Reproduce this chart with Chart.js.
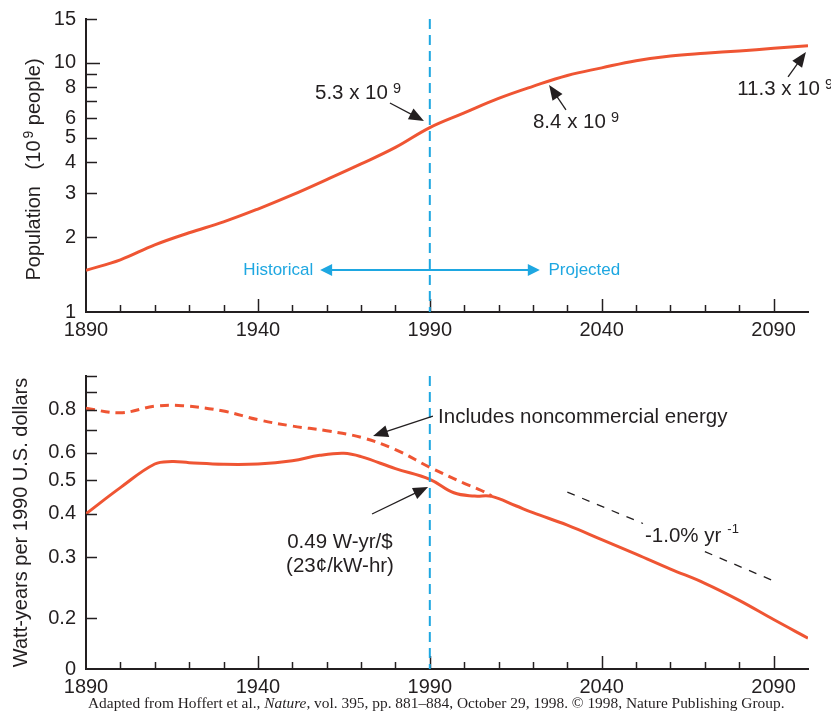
<!DOCTYPE html>
<html>
<head>
<meta charset="utf-8">
<script src="https://cdn.jsdelivr.net/npm/chart.js@4.4.1/dist/chart.umd.min.js"></script>
<style>
  html, body { margin: 0; padding: 0; background: #fff; }
  body { width: 831px; height: 714px; position: relative; overflow: hidden; }
  canvas { position: absolute; left: 0; }
  #pop { top: 0; }
  #energy { top: 345px; }
  #credit { position: absolute; left: 88px; top: 695px; font: 15.4px 'Liberation Serif', 'Times New Roman', serif;
            color: #231f20; white-space: nowrap; line-height: 1; }
</style>
</head>
<body>
<canvas id="pop" width="831" height="345"></canvas>
<canvas id="energy" width="831" height="355"></canvas>
<div id="credit">Adapted from Hoffert et al., <i>Nature</i>, vol. 395, pp. 881–884, October 29, 1998. © 1998, Nature Publishing Group.</div>
<script>
// ---- data ----
const years = [1890, 1900, 1910, 1920, 1930, 1940, 1950, 1960, 1970, 1980, 1990,
               2000, 2010, 2020, 2030, 2040, 2050, 2060, 2070, 2080, 2090, 2100];
const population = [1.47, 1.62, 1.86, 2.08, 2.30, 2.59, 2.95, 3.40, 3.93, 4.58, 5.5,
                    6.3, 7.2, 8.05, 8.9, 9.55, 10.2, 10.66, 10.93, 11.16, 11.44, 11.72];

const intensityYears = [1890, 1900, 1910, 1915, 1920, 1930, 1940, 1950, 1958, 1965, 1970, 1980, 1990,
                        1997, 2003, 2008, 2015, 2020, 2030, 2040, 2050, 2060, 2070, 2080, 2090, 2100];
const intensity = [0.40, 0.476, 0.557, 0.566, 0.562, 0.556, 0.557, 0.569, 0.59, 0.598, 0.585, 0.54, 0.503,
                   0.46, 0.45, 0.449, 0.422, 0.403, 0.371, 0.337, 0.306, 0.277, 0.252, 0.225, 0.198, 0.175];

const nonCommYears = [1890, 1900, 1910, 1918, 1930, 1940, 1950, 1960, 1970, 1980, 1990, 2000, 2005, 2008];
const nonComm = [0.807, 0.783, 0.818, 0.821, 0.792, 0.748, 0.717, 0.695, 0.665, 0.613, 0.545, 0.49, 0.467, 0.45];

const trendYears = [2030, 2052, 2061, 2070, 2090];
const trendValues = [0.462, 0.375, null, 0.311, 0.256];

const xTicks = [1890, 1900, 1910, 1920, 1930, 1940, 1950, 1960, 1970, 1980, 1990,
                2000, 2010, 2020, 2030, 2040, 2050, 2060, 2070, 2080, 2090];
const xTickLabels = ['1890', '', '', '', '', '1940', '', '', '', '', '1990',
                     '', '', '', '', '2040', '', '', '', '', '2090'];
const popTicks = [1, 2, 3, 4, 5, 6, 7, 8, 9, 10, 15];
const popTickLabels = ['1', '2', '3', '4', '5', '6', '', '8', '', '10', '15'];
const energyTicks = [0.1425, 0.2, 0.3, 0.4, 0.5, 0.6, 0.7, 0.8, 0.9, 1.0];
const energyTickLabels = ['0', '0.2', '0.3', '0.4', '0.5', '0.6', '', '0.8', '', ''];

// ---- look ----
const red = '#ef5533';
const blue = '#1ea7e1';
const ink = '#231f20';
const family = "'Liberation Sans', Arial, sans-serif";
Chart.defaults.font.family = family;
Chart.defaults.font.size = 20;
Chart.defaults.color = ink;

const pts = (xs, ys) => xs.map((x, i) => ({ x, y: ys[i] }));

function tip(ctx, x, y, ang, len, w) {
  const c = Math.cos(ang), s = Math.sin(ang);
  ctx.beginPath();
  ctx.moveTo(x, y);
  ctx.lineTo(x - len * c + w / 2 * s, y - len * s - w / 2 * c);
  ctx.lineTo(x - len * c - w / 2 * s, y - len * s + w / 2 * c);
  ctx.closePath();
  ctx.fill();
}

function arrow(ctx, a, x1, y1, x2, y2) {
  const ang = Math.atan2(y2 - y1, x2 - x1);
  const len = a.len || 15, w = a.w || 12;
  const c = Math.cos(ang), s = Math.sin(ang);
  ctx.strokeStyle = ctx.fillStyle = a.color || ink;
  ctx.lineWidth = a.lw || 1.3;
  ctx.beginPath();
  ctx.moveTo(a.both ? x1 + c * len * 0.8 : x1, a.both ? y1 + s * len * 0.8 : y1);
  ctx.lineTo(x2 - c * len * 0.8, y2 - s * len * 0.8);
  ctx.stroke();
  tip(ctx, x2, y2, ang, len, w);
  if (a.both) tip(ctx, x1, y1, ang + Math.PI, len, w);
}

function label(ctx, t, x, y) {
  const size = t.size || 20.5;
  ctx.fillStyle = t.color || ink;
  ctx.font = `${size}px ${family}`;
  ctx.textBaseline = t.baseline || 'alphabetic';
  ctx.textAlign = 'left';
  const w = ctx.measureText(t.text).width;
  const x0 = t.align === 'right' ? x - w : x;
  ctx.fillText(t.text, x0, y);
  if (t.sup) {
    ctx.font = `${t.supSize || 14.5}px ${family}`;
    ctx.fillText(t.sup, x0 + w + (t.gap || 5), y - (t.raise || 6));
  }
}

// axis title drawn rotated, runs allow a superscript
function yTitle(ctx, area, runs, bx, shift) {
  ctx.save();
  ctx.fillStyle = ink;
  ctx.textBaseline = 'alphabetic';
  ctx.textAlign = 'left';
  const font = r => `${r.sup ? 14 : 20}px ${family}`;
  let total = 0;
  runs.forEach(r => { ctx.font = font(r); total += ctx.measureText(r.t).width + (r.sup ? 2 : 0); });
  const cy = (area.top + area.bottom) / 2 + shift;
  ctx.translate(bx, cy + total / 2);
  ctx.rotate(-Math.PI / 2);
  let pos = 0;
  runs.forEach(r => {
    ctx.font = font(r);
    if (r.sup) pos += 2;
    ctx.fillText(r.t, pos, r.sup ? -7 : 0);
    pos += ctx.measureText(r.t).width;
  });
  ctx.restore();
}

const notes = cfg => ({
  id: 'notes',
  afterDatasetsDraw(chart) {
    const { ctx, chartArea: area, scales: { x, y } } = chart;
    const px = v => x.getPixelForValue(v), py = v => y.getPixelForValue(v);
    ctx.save();
    ctx.strokeStyle = blue;
    ctx.lineWidth = 2;
    ctx.setLineDash([10, 6]);
    ctx.beginPath();
    ctx.moveTo(px(cfg.divider), area.top);
    ctx.lineTo(px(cfg.divider), area.bottom);
    ctx.stroke();
    ctx.setLineDash([]);
    cfg.arrows.forEach(a => arrow(ctx, a, px(a.from[0]), py(a.from[1]), px(a.to[0]), py(a.to[1])));
    cfg.texts.forEach(t => label(ctx, t, px(t.x), py(t.y)));
    ctx.restore();
    yTitle(ctx, area, cfg.title, cfg.titleX, cfg.titleShift);
  }
});

// tick marks point into the plot
const inwardTicks = {
  id: 'inwardTicks',
  afterDatasetsDraw(chart) {
    const { ctx, scales: { x, y } } = chart;
    ctx.save();
    ctx.strokeStyle = ink;
    ctx.lineWidth = 1.5;
    x.ticks.forEach(t => {
      if (t.value === x.min) return;
      const p = Math.round(x.getPixelForValue(t.value)) + 0.5;
      ctx.beginPath(); ctx.moveTo(p, x.top); ctx.lineTo(p, x.top - (t.label ? 13 : 7)); ctx.stroke();
    });
    y.ticks.forEach(t => {
      if (t.value === y.min) return;
      const p = Math.round(y.getPixelForValue(t.value)) + 0.5;
      ctx.beginPath(); ctx.moveTo(y.right, p); ctx.lineTo(y.right + (t.value === 10 ? 14 : 11), p); ctx.stroke();
    });
    ctx.restore();
  }
};

function xScale(height) {
  return {
    type: 'linear', min: 1890, max: 2100,
    grid: { display: false, drawTicks: false },
    border: { color: ink, width: 2 },
    ticks: { padding: 6, autoSkip: false, maxRotation: 0, callback: (v, i) => xTickLabels[i] },
    afterBuildTicks: s => { s.ticks = xTicks.map(v => ({ value: v })); },
    afterFit: s => { s.height = height; s.paddingLeft = 0; s.paddingRight = 0; }
  };
}

function yScale(ticks, labels) {
  return {
    type: 'logarithmic', min: ticks[0], max: ticks[ticks.length - 1],
    grid: { display: false, drawTicks: false },
    border: { color: ink, width: 2 },
    ticks: { padding: 10, autoSkip: false, callback: (v, i) => labels[i] },
    afterBuildTicks: s => { s.ticks = ticks.map(v => ({ value: v })); },
    afterFit: s => { s.width = 86; s.paddingTop = 0; s.paddingBottom = 0; }
  };
}

const baseOptions = (top, xHeight, ticks, labels) => ({
  responsive: false,
  animation: false,
  layout: { padding: { top, right: 23, left: 0, bottom: 0 } },
  plugins: { legend: { display: false }, tooltip: { enabled: false } },
  scales: { x: xScale(xHeight), y: yScale(ticks, labels) }
});

new Chart(document.getElementById('pop'), {
  type: 'line',
  data: {
    datasets: [{
      data: pts(years, population),
      borderColor: red, borderWidth: 3, pointRadius: 0, tension: 0.4
    }]
  },
  options: baseOptions(19, 33, popTicks, popTickLabels),
  plugins: [inwardTicks, notes({
    divider: 1990,
    title: [{ t: 'Population   (10' }, { t: '9', sup: true }, { t: ' people)' }],
    titleX: 40, titleShift: 4,
    arrows: [
      { from: [1978.4, 6.90], to: [1988.3, 5.85] },
      { from: [2029.6, 6.47], to: [2024.7, 8.15] },
      { from: [2094.2, 8.78], to: [2099.4, 11.06] },
      { from: [1958.1, 1.474], to: [2022.0, 1.474], both: true, color: blue, lw: 2, len: 12, w: 12 }
    ],
    texts: [
      { x: 1956.6, y: 7.16, text: '5.3 x 10', sup: '9' },
      { x: 2020.0, y: 5.48, text: '8.4 x 10', sup: '9' },
      { x: 2079.4, y: 7.43, text: '11.3 x 10', sup: '9' },
      { x: 1956.1, y: 1.474, text: 'Historical', color: blue, size: 17, align: 'right', baseline: 'middle' },
      { x: 2024.5, y: 1.474, text: 'Projected', color: blue, size: 17, baseline: 'middle' }
    ]
  })]
});

new Chart(document.getElementById('energy'), {
  type: 'line',
  data: {
    datasets: [
      { data: pts(nonCommYears, nonComm), borderColor: red, borderWidth: 3, borderDash: [9, 6],
        pointRadius: 0, tension: 0.4 },
      { data: pts(intensityYears, intensity), borderColor: red, borderWidth: 3,
        pointRadius: 0, tension: 0.4 },
      { data: pts(trendYears, trendValues), borderColor: ink, borderWidth: 1.3, borderDash: [8, 8],
        pointRadius: 0, spanGaps: false, tension: 0 }
    ]
  },
  options: baseOptions(31, 31, energyTicks, energyTickLabels),
  plugins: [inwardTicks, notes({
    divider: 1990,
    title: [{ t: 'Watt-years per 1990 U.S. dollars' }],
    titleX: 27, titleShift: 0,
    arrows: [
      { from: [1990.9, 0.766], to: [1973.5, 0.671] },
      { from: [1973.2, 0.3995], to: [1989.5, 0.478] }
    ],
    texts: [
      { x: 1992.4, y: 0.732, text: 'Includes noncommercial energy' },
      { x: 1948.5, y: 0.3185, text: '0.49 W-yr/$' },
      { x: 1948.2, y: 0.2716, text: '(23¢/kW-hr)' },
      { x: 2052.6, y: 0.3315, text: '-1.0% yr', sup: '-1', supSize: 13, raise: 9, gap: 6 }
    ]
  })]
});
</script>
</body>
</html>
